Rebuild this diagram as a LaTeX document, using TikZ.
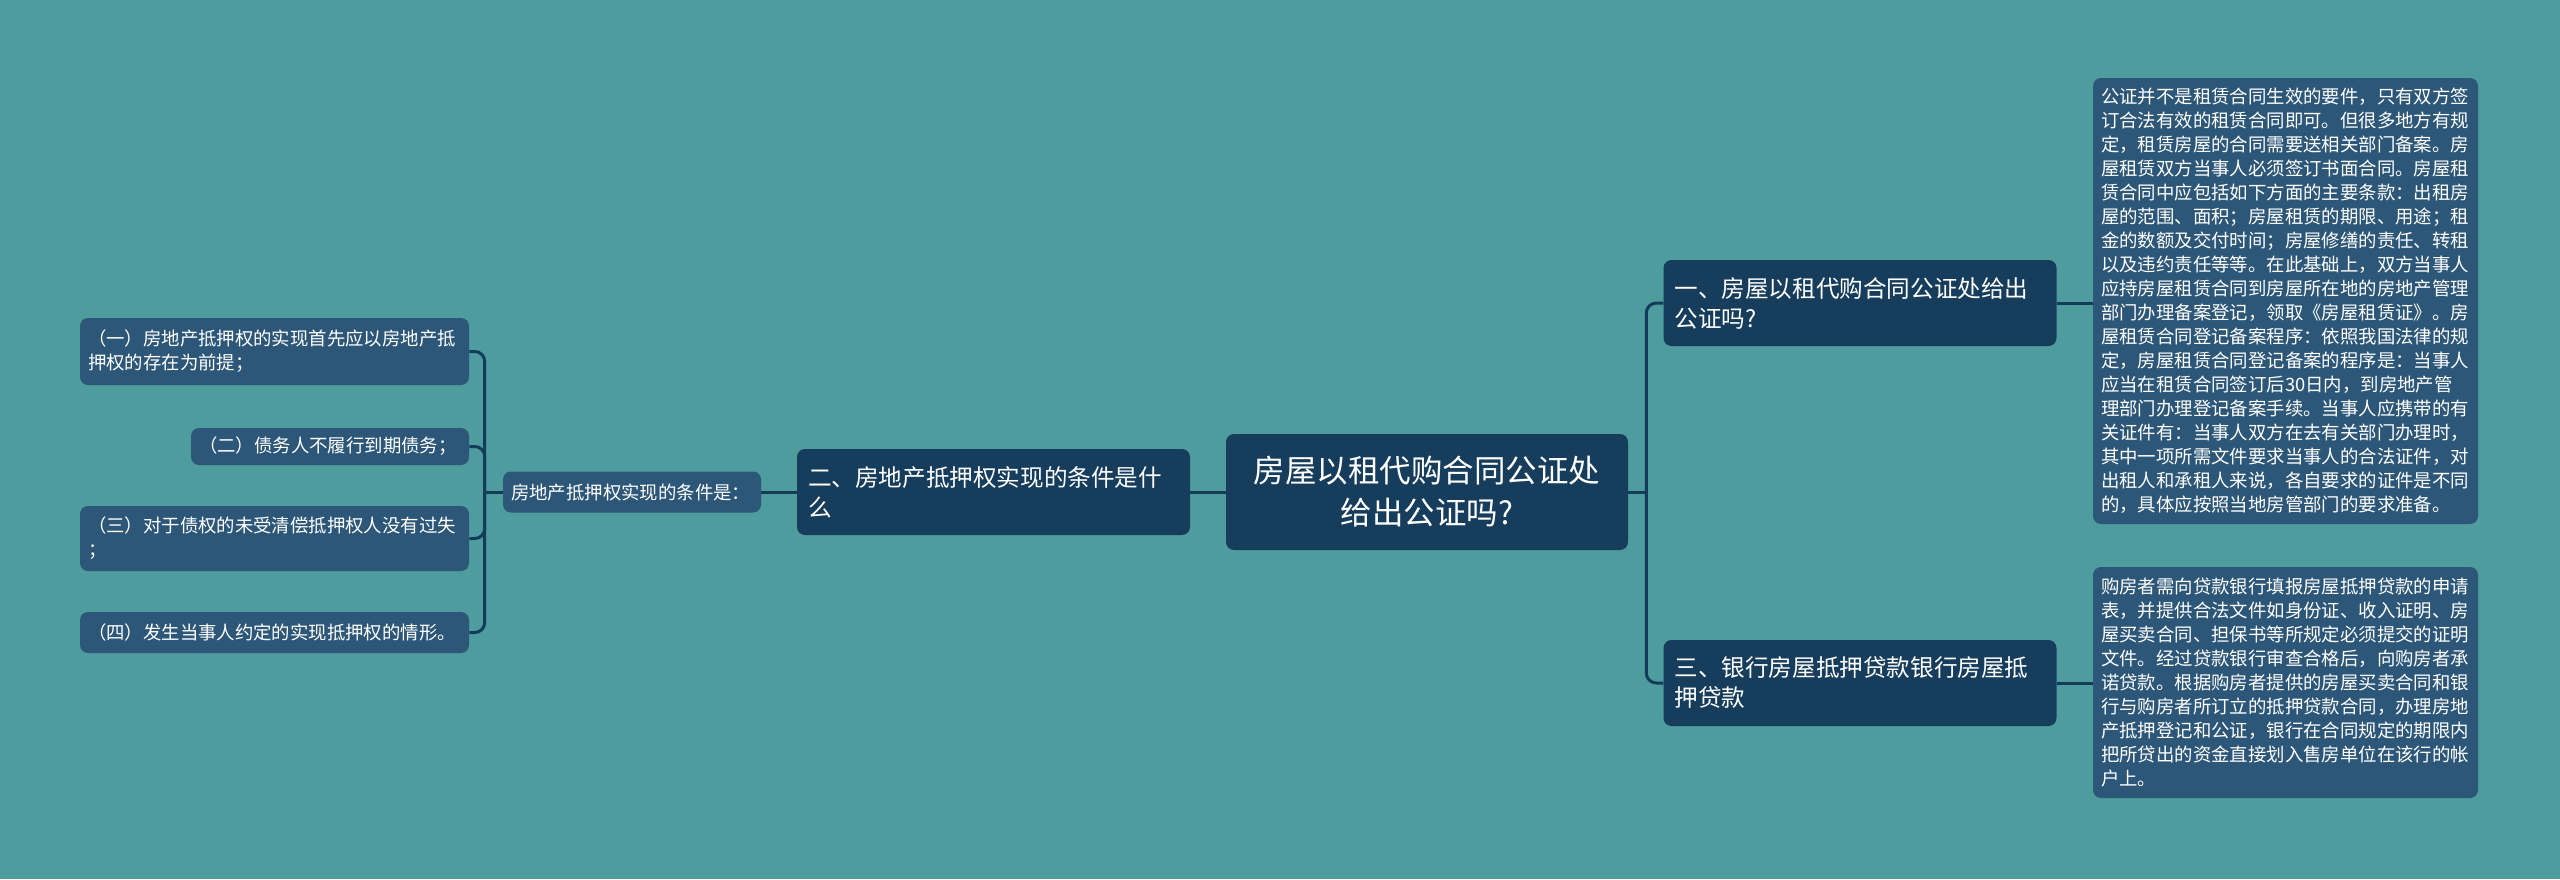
\documentclass[tikz,border=0pt]{standalone}
\usepackage{fontspec}
\usepackage{tikz}
\usetikzlibrary{calc}
\newfontfamily\cjk{Noto Sans CJK SC}
\definecolor{bgteal}{RGB}{78,156,157}
\definecolor{topblue}{RGB}{23,61,92}
\definecolor{leafblue}{RGB}{45,87,120}
\definecolor{linkblue}{RGB}{21,59,90}

\begin{document}
\begin{tikzpicture}[x=0.75pt,y=-0.75pt,
	box/.style={rounded corners=6pt, text=white, inner xsep=6pt, inner ysep=2pt},
	topic/.style={box, fill=topblue, font=\cjk\fontsize{17.7}{22.5}\selectfont, align=left, inner xsep=8.25pt, text width=278.25pt, minimum height=64.5pt},
	leaf/.style={box, fill=leafblue, font=\cjk\fontsize{13.8}{18}\selectfont, align=left},
	link/.style={draw=linkblue, line width=2.25pt, rounded corners=7.5pt}]
				%% background and page size
				\useasboundingbox (0,0) rectangle (2560,879);
				\fill[bgteal] (0,0) rectangle (2560,879);
				%% root in the middle
				\node[box, fill=topblue, align=center, font=\cjk\fontsize{23.6}{31.5}\selectfont, minimum width=301.5pt, minimum height=87pt] (root) at (1427,492){房屋以租代购合同公证处\\给出公证吗?};
				%% topics placed by hand
				\node[topic] (q1) at (1860,303){一、房屋以租代购合同公证处给出\\公证吗?};
				\node[topic] (q2) at (993.5,492){二、房地产抵押权实现的条件是什\\么};
				\node[topic] (q3) at (1860,683){三、银行房屋抵押贷款银行房屋抵\\押贷款};
				%% long texts on the right
				\node[leaf, text width=276.75pt, minimum height=334.5pt] (t1) at (2285.5,301){公证并不是租赁合同生效的要件，只有双方签\\订合法有效的租赁合同即可。但很多地方有规\\定，租赁房屋的合同需要送相关部门备案。房\\屋租赁双方当事人必须签订书面合同。房屋租\\赁合同中应包括如下方面的主要条款：出租房\\屋的范围、面积；房屋租赁的期限、用途；租\\金的数额及交付时间；房屋修缮的责任、转租\\以及违约责任等等。在此基础上，双方当事人\\应持房屋租赁合同到房屋所在地的房地产管理\\部门办理备案登记，领取《房屋租赁证》。房\\屋租赁合同登记备案程序：依照我国法律的规\\定，房屋租赁合同登记备案的程序是：当事人\\应当在租赁合同签订后30日内，到房地产管\\理部门办理登记备案手续。当事人应携带的有\\关证件有：当事人双方在去有关部门办理时，\\其中一项所需文件要求当事人的合法证件，对\\出租人和承租人来说，各自要求的证件是不同\\的，具体应按照当地房管部门的要求准备。};
				\node[leaf, text width=276.75pt, minimum height=173.25pt] (t2) at (2285.5,682.5){购房者需向贷款银行填报房屋抵押贷款的申请\\表，并提供合法文件如身份证、收入证明、房\\屋买卖合同、担保书等所规定必须提交的证明\\文件。经过贷款银行审查合格后，向购房者承\\诺贷款。根据购房者提供的房屋买卖合同和银\\行与购房者所订立的抵押贷款合同，办理房地\\产抵押登记和公证，银行在合同规定的期限内\\把所贷出的资金直接划入售房单位在该行的帐\\户上。};
				%% left branch
				\node[leaf, text width=181.5pt, minimum height=30.75pt] (cond) at (632,492){房地产抵押权实现的条件是：};
				\node[leaf, text width=279.75pt, minimum height=50.25pt] (c1) at (274.5,351.5){（一）房地产抵押权的实现首先应以房地产抵\\押权的存在为前提；};
				\node[leaf, text width=196.5pt, minimum height=27.75pt] (c2) at (330,446.5){（二）债务人不履行到期债务；};
				\node[leaf, text width=279.75pt, minimum height=48.75pt] (c3) at (274.5,538.5){（三）对于债权的未受清偿抵押权人没有过失\\；};
				\node[leaf, text width=279.75pt, minimum height=30.75pt] (c4) at (274.5,632.5){（四）发生当事人约定的实现抵押权的情形。};
				%% straight links through the middle
				\draw[link] (root) -- (q2);
				\draw[link] (q2) -- (cond);
				%% elbows to the right
				\draw[link] (root.east) -- ++(18,0) coordinate (rj);
				\foreach \n in {q1,q3}{
					\draw[link] (rj) |- (\n.west);
					}
				\foreach \n/\t in {q1/t1,q3/t2}{
					\draw[link] (\n.east) -- (\n.east -| \t.west);
					}
				%% elbows to the left
				\draw[link] (cond.west) -- ++(-18,0) coordinate (lj);
				\foreach \n in {c1,c2,c3,c4}{
					\draw[link] (lj) |- (\n.east);
					}
\end{tikzpicture}
\end{document}
